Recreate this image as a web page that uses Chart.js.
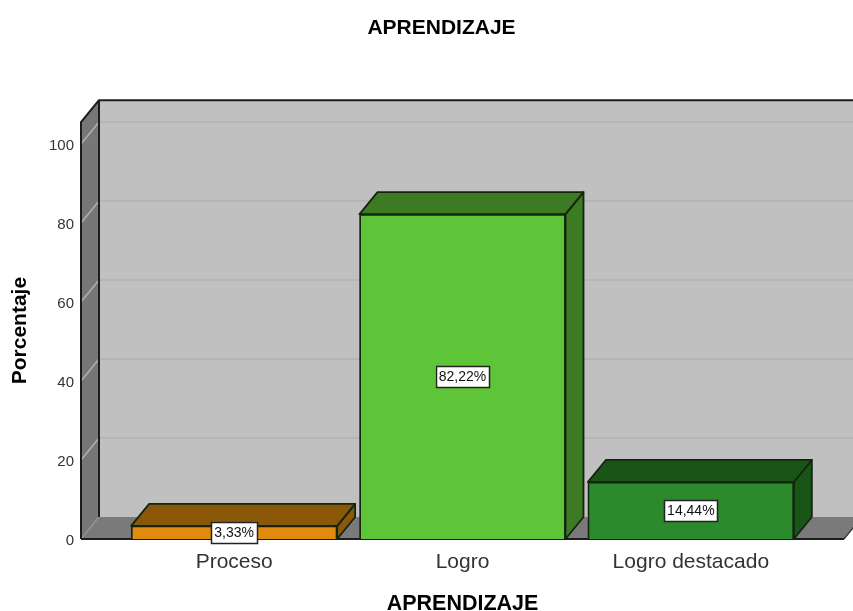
<!DOCTYPE html>
<html><head><meta charset="utf-8">
<style>html,body{margin:0;padding:0;background:#fff}canvas{display:block}</style>
<script src="https://cdn.jsdelivr.net/npm/chart.js@4"></script>
</head><body><canvas id="c" width="853" height="611"></canvas>
<script>
const categories = ['Proceso', 'Logro', 'Logro destacado'];
const percentages = [3.33, 82.22, 14.44];
const frontColors = ['#e08a0e', '#5fc538', '#2a8a2c'];
const topColors = ['#8a5808', '#3c7a24', '#1a5518'];
const yTicks = [0, 20, 40, 60, 80, 100];
const FONT = '"Liberation Sans", Arial, sans-serif';
const DX = 18, DY = 22, PAD_L = 39, PAD_R = 39;

function poly(ctx, pts, fill, stroke, lw) {
  ctx.beginPath();
  pts.forEach((p, i) => i ? ctx.lineTo(p[0], p[1]) : ctx.moveTo(p[0], p[1]));
  ctx.closePath();
  if (fill) { ctx.fillStyle = fill; ctx.fill(); }
  if (stroke) { ctx.strokeStyle = stroke; ctx.lineWidth = lw || 1.5; ctx.lineJoin = 'round'; ctx.stroke(); }
}
const box3d = {
  id: 'box3d',
  afterLayout(chart) {
    // the title is centred on the whole drawn box, including the wall padding
    if (chart.titleBlock) chart.titleBlock.left += 78;
  },
  beforeDatasetsDraw(chart) {
    const ctx = chart.ctx, a = chart.chartArea, ys = chart.scales.y;
    const L = a.left - PAD_L, R = a.right + PAD_R, T = a.top, B = a.bottom;
    ctx.save();
    // back wall
    poly(ctx, [[L + DX, T - DY], [R + DX, T - DY], [R + DX, B - DY], [L + DX, B - DY]], '#c0c0c0');
    // floor
    poly(ctx, [[L, B], [L + DX, B - DY], [R + DX, B - DY], [R, B]], '#7a7a7a');
    // left wall
    poly(ctx, [[L, T], [L + DX, T - DY], [L + DX, B - DY], [L, B]], '#777777');
    // gridlines
    yTicks.forEach(v => {
      const y = ys.getPixelForValue(v);
      ctx.lineWidth = 2;
      ctx.strokeStyle = '#b5b5b5';
      if (v > 0) {
        ctx.beginPath(); ctx.moveTo(L + DX, y - DY); ctx.lineTo(R + DX, y - DY); ctx.stroke();
      }
      ctx.lineWidth = 1.5;
      ctx.strokeStyle = v > 0 ? '#b0b0b0' : '#929292';
      ctx.beginPath(); ctx.moveTo(L, y); ctx.lineTo(L + DX, y - DY); ctx.stroke();
    });
    // frame
    ctx.strokeStyle = '#1c1c1c'; ctx.lineWidth = 2; ctx.lineJoin = 'round';
    ctx.beginPath();
    ctx.moveTo(L, B); ctx.lineTo(L, T); ctx.lineTo(L + DX, T - DY); ctx.lineTo(R + DX, T - DY);
    ctx.moveTo(L + DX, T - DY); ctx.lineTo(L + DX, B - DY);
    ctx.moveTo(L, B); ctx.lineTo(R, B);
    ctx.stroke();
    ctx.lineWidth = 1.2; ctx.strokeStyle = '#333';
    ctx.beginPath(); ctx.moveTo(R, B); ctx.lineTo(R + DX, B - DY); ctx.stroke();
    // bars: side and top faces
    const els = chart.getDatasetMeta(0).data;
    els.forEach((el, i) => {
      const l = el.x - el.width / 2, r = el.x + el.width / 2, t = el.y, b = el.base;
      poly(ctx, [[r, t], [r + DX, t - DY], [r + DX, b - DY], [r, b]], topColors[i], '#14240f', 1.8);
      poly(ctx, [[l, t], [l + DX, t - DY], [r + DX, t - DY], [r, t]], topColors[i], '#14240f', 1.8);
    });
    ctx.restore();
  },
  afterDatasetsDraw(chart) {
    const ctx = chart.ctx;
    ctx.save();
    ctx.font = '14px ' + FONT;
    ctx.textAlign = 'center';
    ctx.textBaseline = 'middle';
    chart.getDatasetMeta(0).data.forEach((el, i) => {
      const txt = percentages[i].toFixed(2).replace('.', ',') + '%';
      const w = ctx.measureText(txt).width + 6, h = 21;
      const cy = (el.y + el.base) / 2;
      ctx.fillStyle = '#fff';
      ctx.strokeStyle = '#222';
      ctx.lineWidth = 1.5;
      ctx.fillRect(el.x - w / 2, cy - h / 2, w, h);
      ctx.strokeRect(Math.round(el.x - w / 2) + .5, Math.round(cy - h / 2) + .5, Math.round(w), h);
      ctx.fillStyle = '#111';
      ctx.fillText(txt, el.x, cy + .5);
    });
    ctx.restore();
  }
};

new Chart(document.getElementById('c'), {
  type: 'bar',
  data: {
    labels: categories,
    datasets: [{
      data: percentages,
      backgroundColor: frontColors,
      borderColor: '#14240f',
      borderWidth: 1.8,
      barThickness: 206
    }]
  },
  plugins: [box3d],
  options: {
    responsive: false,
    animation: false,
    events: [],
    layout: { padding: { top: 0, right: 48, left: 0, bottom: 0 } },
    plugins: {
      legend: { display: false },
      tooltip: { enabled: false },
      title: {
        display: true, text: 'APRENDIZAJE', color: '#000',
        font: { family: FONT, size: 21, weight: 'bold' },
        padding: { top: 16, bottom: 81 }
      }
    },
    scales: {
      x: {
        grid: { display: false, drawTicks: false },
        border: { display: false },
        ticks: { color: '#333', font: { family: FONT, size: 21 }, padding: 11, maxRotation: 0, autoSkip: false },
        title: { display: true, text: 'APRENDIZAJE', color: '#000', font: { family: FONT, size: 21.5, weight: 'bold' }, padding: { top: 0, bottom: -6 } },
        afterFit(s) { s.height = 72; }
      },
      y: {
        min: 0, max: 105.5,
        afterBuildTicks(s) { s.ticks = yTicks.map(v => ({ value: v })); },
        grid: { display: false, drawTicks: false },
        border: { display: false },
        ticks: { color: '#333', font: { family: FONT, size: 15 }, padding: 46, labelOffset: 1.5 },
        title: { display: true, text: 'Porcentaje', color: '#000', font: { family: FONT, size: 21, weight: 'bold' }, padding: { top: 8, bottom: 0 } },
        afterFit(s) { s.width = 120; }
      }
    }
  }
});
</script></body></html>
